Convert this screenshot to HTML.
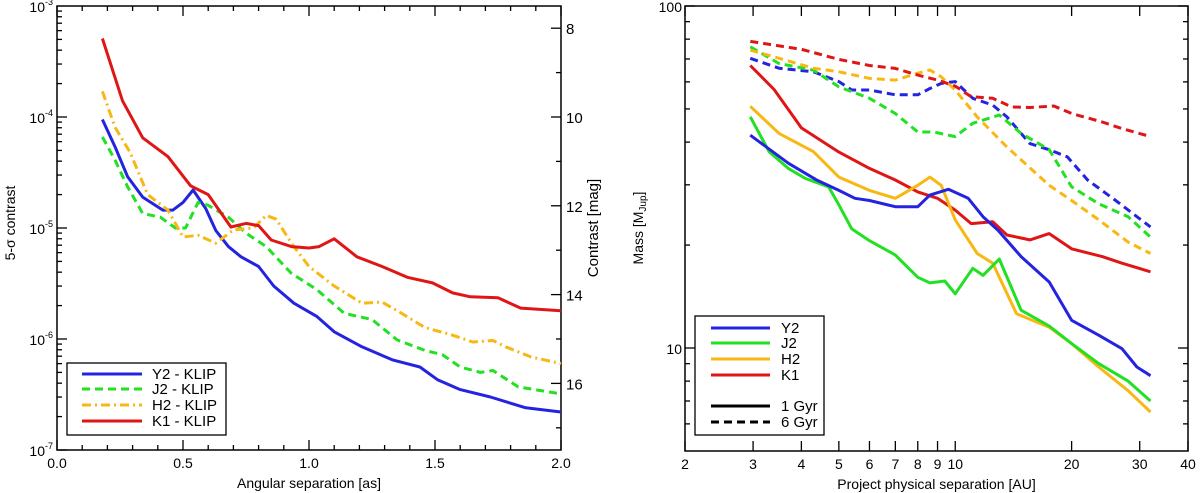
<!DOCTYPE html>
<html><head><meta charset="utf-8"><style>
html,body{margin:0;padding:0;background:#fff;}
svg{display:block;font-family:"Liberation Sans",sans-serif;}
</style></head><body>
<svg id="fig" width="1200" height="493" viewBox="0 0 1200 493" xmlns="http://www.w3.org/2000/svg">
<g id="left"></g>
<g id="right"></g>
</svg>
<script>
// ---------- Left chart data ----------
const xTicksL = [0.0, 0.5, 1.0, 1.5, 2.0];
const xTickLabelsL = ["0.0", "0.5", "1.0", "1.5", "2.0"];
const magTicks = [8, 10, 12, 14, 16];
const k1X = [0.18,0.26,0.34,0.44,0.53,0.60,0.69,0.75,0.80,0.85,0.93,1.00,1.04,1.10,1.19,1.29,1.39,1.49,1.57,1.64,1.75,1.84,2.0];
const k1Y = [5.1e-4,1.4e-4,6.5e-5,4.4e-5,2.4e-5,2.0e-5,1.02e-5,1.1e-5,1.05e-5,7.8e-6,6.8e-6,6.6e-6,6.8e-6,8.0e-6,5.5e-6,4.5e-6,3.6e-6,3.2e-6,2.6e-6,2.4e-6,2.35e-6,1.9e-6,1.8e-6];
const y2X = [0.18,0.23,0.28,0.34,0.42,0.46,0.50,0.54,0.59,0.63,0.68,0.73,0.80,0.86,0.94,1.03,1.10,1.21,1.33,1.44,1.51,1.60,1.72,1.86,2.0];
const y2Y = [9.5e-5,5.4e-5,2.9e-5,1.9e-5,1.45e-5,1.45e-5,1.7e-5,2.2e-5,1.5e-5,9.5e-6,6.8e-6,5.5e-6,4.5e-6,3.0e-6,2.1e-6,1.6e-6,1.16e-6,8.5e-7,6.5e-7,5.6e-7,4.3e-7,3.5e-7,3.0e-7,2.4e-7,2.2e-7];
const j2X = [0.18,0.23,0.28,0.34,0.41,0.47,0.51,0.56,0.60,0.68,0.75,0.83,0.93,1.03,1.14,1.25,1.35,1.46,1.53,1.60,1.68,1.73,1.83,2.0];
const j2Y = [6.6e-5,4.1e-5,2.35e-5,1.35e-5,1.25e-5,1.0e-5,1.0e-5,1.7e-5,1.6e-5,1.25e-5,9e-6,6.8e-6,3.9e-6,2.8e-6,1.7e-6,1.5e-6,9.8e-7,7.9e-7,7.2e-7,5.6e-7,5.0e-7,5.2e-7,3.7e-7,3.2e-7];
const h2X = [0.18,0.23,0.29,0.36,0.44,0.50,0.56,0.63,0.70,0.78,0.83,0.87,0.93,1.00,1.10,1.21,1.29,1.35,1.46,1.56,1.65,1.73,1.78,1.88,2.0];
const h2Y = [1.7e-4,8.1e-5,4.8e-5,2.0e-5,1.45e-5,8.3e-6,8.6e-6,7.3e-6,9.6e-6,1.0e-5,1.3e-5,1.2e-5,7.3e-6,4.5e-6,3.0e-6,2.1e-6,2.15e-6,1.8e-6,1.27e-6,1.1e-6,9.4e-7,9.7e-7,8.5e-7,6.9e-7,6.0e-7];

// ---------- Right chart data ----------
const xTicksR = [2,3,4,5,6,7,8,9,10,20,30,40];
const xTickLabelsR = ["2","3","4","5","6","7","8","9","10","20","30","40"];
const k1sX = [2.95,3.4,4,5,6,7,8,9,10,11,12.5,13.6,15.6,17.5,20,24,27,32];
const k1sY = [67,57,44,37.4,33.5,31,28.6,27.4,25.3,23.1,23.4,21.4,20.7,21.6,19.5,18.5,17.7,16.7];
const k1dX = [2.95,4,5,6,7,8,9,10,11,12.5,14,15.6,18,20,24,27,32];
const k1dY = [78.8,74.7,69.8,67,65.7,62.8,60.7,58.3,54.3,53.7,50.7,50.5,51,48.5,45.8,43.8,41.5];
const y2sX = [2.95,3.7,4.4,5,5.5,6,7,8,8.6,9.6,10.8,11.8,12.9,14.8,17.5,20,23.5,27,29.5,32];
const y2sY = [41.9,34.7,30.9,28.9,27.4,27,25.9,25.9,28,29.1,27.4,24.2,22.1,18.5,15.6,12.05,10.9,9.95,8.8,8.3];
const j2sX = [2.95,3.3,3.7,4.1,4.7,5,5.4,6,7,8,8.6,9.4,10,11.1,11.8,13,14.8,17.5,20,23.5,28,32];
const j2sY = [47.4,37.5,33.5,31.3,29.6,26.2,22.3,20.6,18.7,16.1,15.5,15.7,14.4,17.1,16.3,18.2,12.9,11.6,10.3,9.0,8.0,7.0];
const h2sX = [2.95,3.5,4.3,5,6,7,8,8.6,9.2,10,11.4,12.5,14.4,17.5,20,23.5,28,32];
const h2sY = [50.9,42.4,37.5,31.6,28.9,27.4,29.9,31.6,29.9,23.7,18.9,17.7,12.6,11.5,10.3,8.8,7.5,6.5];
const h2dX = [2.95,3.5,4.3,5,6,7,8,8.6,9.2,10,11.4,13.6,17.5,20,23.5,28,32];
const h2dY = [74.3,70.3,65.8,64.2,61.4,60.7,63.6,65,62.1,56.8,47.4,38.7,29.9,27,23.7,20.4,18.9];
const j2dX = [2.95,3.5,4.3,5,6,7,8,8.8,10,11.1,13,14.8,17.5,20,23.5,28,32];
const j2dY = [76,67.9,64.9,58,53.7,48.5,42.8,42.8,41.5,45.4,48,42.4,38,29.6,26.4,24.2,21.1];
const y2dX = [2.95,3.5,4.3,5,5.4,6,7,8,8.6,9.2,10,11.1,12.5,13.6,15.6,17.5,19.5,22,26,29.5,32];
const y2dY = [70.3,65.8,64.2,60.1,56.8,56.8,55,55,57.4,59.4,60.1,53.7,51.3,47.4,39.6,38,36.2,31,27,24.2,22.6];

const NS = "http://www.w3.org/2000/svg";
function mk(parent, tag, attrs, text){
  const e = document.createElementNS(NS, tag);
  for (const k in attrs) e.setAttribute(k, attrs[k]);
  if (text !== undefined) e.textContent = text;
  parent.appendChild(e);
  return e;
}
const BLUE="#2424e0", GREEN="#22e022", ORANGE="#f8b814", RED="#e01616";

// ---------- Left chart ----------
(function(){
  const g = document.getElementById('left');
  const L=57,R=561,T=6,B=450;
  const xs = v => L + (v-0)/(2-0)*(R-L);
  const ys = v => T + (-3 - Math.log10(v))/4*(B-T);
  const ymag = m => ys(Math.pow(10,-m/2.5));
  for (let i=0;i<=20;i++){
    const v=i*0.1, x=xs(v), maj = (i%5===0);
    const t1 = mk(g,'line',{x1:x,y1:B,x2:x,y2:B-(maj?10:5),stroke:'#000','stroke-width':1.3});
    
    
    mk(g,'line',{x1:x,y1:T,x2:x,y2:T+(maj?10:5),stroke:'#000','stroke-width':1.3});
  }
  xTicksL.forEach((v,i)=>{
    const t = mk(g,'text',{x:xs(v),y:B+18,'font-size':14,'text-anchor':'middle'},xTickLabelsL[i]);
    
    
  });
  for (let d=-7; d<-3; d++){
    for (let m=1;m<10;m++){
      const y = ys(m*Math.pow(10,d));
      mk(g,'line',{x1:L,y1:y,x2:L+(m===1?10:5),y2:y,stroke:'#000','stroke-width':1.3});
    }
  }
  for (let d=-7; d<=-3; d++){
    const t = mk(g,'text',{x:L-4,y:ys(Math.pow(10,d))+6,'font-size':14,'text-anchor':'end'});
    
    
    mk(t,'tspan',{},'10');
    mk(t,'tspan',{dy:-7,'font-size':9},String(d));
  }
  for (let m=8;m<=17;m++){
    const y=ymag(m), maj=(m%2===0);
    mk(g,'line',{x1:R,y1:y,x2:R-(maj?10:5),y2:y,stroke:'#000','stroke-width':1.3});
  }
  magTicks.forEach(m=>{
    const t = mk(g,'text',{x:R+5,y:ymag(m)+6,'font-size':15},String(m));
    
    
  });
  const fr = mk(g,'rect',{x:L,y:T,width:R-L,height:B-T,fill:'none',stroke:'#000','stroke-width':1.5});
  
  
  const xt = mk(g,'text',{x:(L+R)/2,y:B+38,'font-size':14,'text-anchor':'middle'},'Angular separation [as]');
  
  
  const yt = mk(g,'text',{x:0,y:0,'font-size':14,'text-anchor':'middle',transform:`translate(15,${(T+B)/2-5}) rotate(-90)`},'5-σ contrast');
  
  
  const yt2 = mk(g,'text',{x:0,y:0,'font-size':15,'text-anchor':'middle',transform:`translate(598,228) rotate(-90)`},'Contrast [mag]');
  
  
  const series = [
    [y2X,y2Y,BLUE,'none','series-y2'],
    [j2X,j2Y,GREEN,'8,5','series-j2'],
    [h2X,h2Y,ORANGE,'9,4,2,4','series-h2'],
    [k1X,k1Y,RED,'none','series-k1']
  ];
  series.forEach(s=>{
    const d = s[0].map((v,i)=>(i?'L':'M')+xs(v).toFixed(1)+','+ys(s[1][i]).toFixed(1)).join(' ');
    const p = mk(g,'path',{d:d,fill:'none',stroke:s[2],'stroke-width':3,'stroke-dasharray':s[3],'stroke-linejoin':'round'});
    
    
  });
  const lg = mk(g,'g',{});
  
  
  mk(lg,'rect',{x:67,y:363,width:159,height:72,fill:'#fff',stroke:'#000','stroke-width':1.3});
  const names=['Y2 - KLIP','J2 - KLIP','H2 - KLIP','K1 - KLIP'];
  const ly=[374,389,405,421];
  series.forEach((s,i)=>{
    const e = mk(lg,'g',{});
    
    
    mk(e,'line',{x1:82,y1:ly[i],x2:142,y2:ly[i],stroke:s[2],'stroke-width':3,'stroke-dasharray':s[3]});
    mk(e,'text',{x:152,y:ly[i]+5,'font-size':15},names[i]);
  });
})();

// ---------- Right chart ----------
(function(){
  const g = document.getElementById('right');
  const L=685,R=1188,T=6,B=451;
  const xs = v => L + (Math.log10(v)-Math.log10(2))/(Math.log10(40)-Math.log10(2))*(R-L);
  const ys = v => T + (2-Math.log10(v))*342;
  xTicksR.forEach((v,i)=>{
    const x=xs(v);
    mk(g,'line',{x1:x,y1:B,x2:x,y2:B-10,stroke:'#000','stroke-width':1.3});
    mk(g,'line',{x1:x,y1:T,x2:x,y2:T+10,stroke:'#000','stroke-width':1.3});
    const t = mk(g,'text',{x:x,y:B+18,'font-size':14,'text-anchor':'middle'},xTickLabelsR[i]);
    
    
  });
  const yt=[6,7,8,9,10,20,30,40,50,60,70,80,90,100];
  yt.forEach(v=>{
    const y=ys(v), maj=(v===10||v===100);
    mk(g,'line',{x1:L,y1:y,x2:L+(maj?10:5),y2:y,stroke:'#000','stroke-width':1.3});
    mk(g,'line',{x1:R,y1:y,x2:R-(maj?10:5),y2:y,stroke:'#000','stroke-width':1.3});
  });
  [10,100].forEach(v=>{
    const t = mk(g,'text',{x:L-3,y:ys(v)+6,'font-size':14,'text-anchor':'end'},String(v));
    
    
  });
  const fr = mk(g,'rect',{x:L,y:T,width:R-L,height:B-T,fill:'none',stroke:'#000','stroke-width':1.5});
  
  
  const xt = mk(g,'text',{x:(L+R)/2,y:B+38,'font-size':14,'text-anchor':'middle'},'Project physical separation [AU]');
  
  
  const ytt = mk(g,'text',{x:0,y:0,'font-size':14,'text-anchor':'middle',transform:`translate(643,228) rotate(-90)`});
  
  
  mk(ytt,'tspan',{},'Mass [M');
  mk(ytt,'tspan',{dy:3,'font-size':10},'Jup');
  mk(ytt,'tspan',{dy:-3},']');
  const series = [
    [y2dX,y2dY,BLUE,'8,5','series-y2-6gyr'],
    [j2dX,j2dY,GREEN,'8,5','series-j2-6gyr'],
    [h2dX,h2dY,ORANGE,'8,5','series-h2-6gyr'],
    [k1dX,k1dY,RED,'8,5','series-k1-6gyr'],
    [k1sX,k1sY,RED,'none','series-k1-1gyr'],
    [h2sX,h2sY,ORANGE,'none','series-h2-1gyr'],
    [j2sX,j2sY,GREEN,'none','series-j2-1gyr'],
    [y2sX,y2sY,BLUE,'none','series-y2-1gyr']
  ];
  series.forEach(s=>{
    const d = s[0].map((v,i)=>(i?'L':'M')+xs(v).toFixed(1)+','+ys(s[1][i]).toFixed(1)).join(' ');
    const p = mk(g,'path',{d:d,fill:'none',stroke:s[2],'stroke-width':3,'stroke-dasharray':s[3],'stroke-linejoin':'round'});
    
    
  });
  const lg = mk(g,'g',{});
  
  
  mk(lg,'rect',{x:695,y:316,width:129,height:119,fill:'#fff',stroke:'#000','stroke-width':1.3});
  const items=[['Y2',BLUE,'none',328],['J2',GREEN,'none',343],['H2',ORANGE,'none',359],['K1',RED,'none',375],['1 Gyr','#000','none',406],['6 Gyr','#000','8,5',422]];
  items.forEach(it=>{
    const e = mk(lg,'g',{});
    
    
    mk(e,'line',{x1:711,y1:it[3],x2:770,y2:it[3],stroke:it[1],'stroke-width':3,'stroke-dasharray':it[2]});
    mk(e,'text',{x:781,y:it[3]+5,'font-size':15},it[0]);
  });
})();
</script>
</body></html>
